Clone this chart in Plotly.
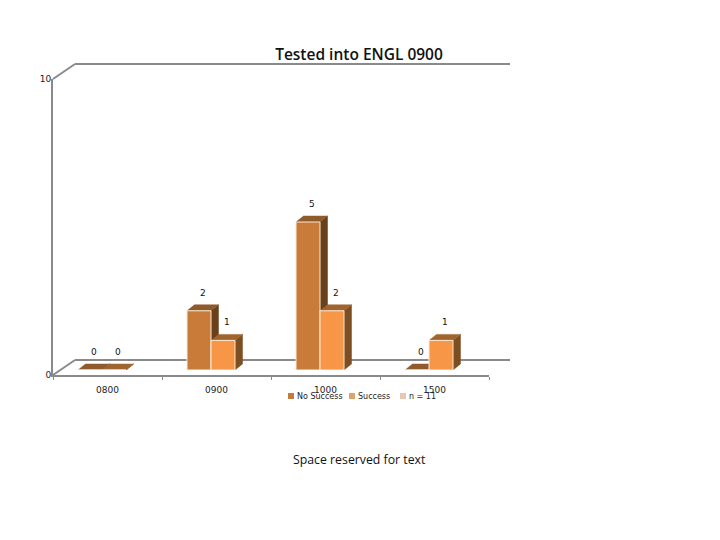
import plotly.graph_objects as go

categories = ["0800", "0900", "1000", "1500"]
no_success = [0, 2, 5, 0]
success = [0, 1, 2, 1]
legend_names = ["No Success", "Success", "n = 11"]
legend_colors = ["#C27C3E", "#E0A26C", "#E8C6B4"]
y_ticks = [0, 10]

W, H = 720, 540
FRONT = ["#C97B3A", "#F79646"]
TOP = ["#8F5A2C", "#A0652F"]
SIDE = ["#68401C", "#7C4E22"]
EDGE = "#FBEBD6"
GRID = "#8A8A8A"
FONT = "DejaVu Sans, sans-serif"


def px(x):
    return x / W


def py(y):
    return 1 - y / H


# pixel geometry of the pseudo-3D frame
L, R, T, B = 53, 489, 79, 375
SHIFT_X, SHIFT_Y = -5.5, -5
DX, DY = 7.5, 6
unit_x = (R - L) / len(categories)
unit_y = (B - T) / y_ticks[-1]
ddx, ddy = DX / unit_x, DY / unit_y
bar_w = 24 / unit_x
x_range = [-0.5, len(categories) - 0.5]
y_range = [y_ticks[0], y_ticks[-1]]

fig = go.Figure()

# depth faces: lower overlay, so the front faces cover them
for s, vals in enumerate([no_success, success]):
    for i, v in enumerate(vals):
        left = i - bar_w + s * bar_w
        right = left + bar_w
        fig.add_trace(go.Scatter(
            x=[right, right + ddx, right + ddx, right, right],
            y=[0, ddy, v + ddy, v, 0],
            mode="lines", fill="toself", fillcolor=SIDE[s],
            line=dict(color=SIDE[s], width=0.5),
            xaxis="x2", yaxis="y2", showlegend=False, hoverinfo="skip"))
        fig.add_trace(go.Scatter(
            x=[left, left + ddx, right + ddx, right, left],
            y=[v, v + ddy, v + ddy, v, v],
            mode="lines", fill="toself", fillcolor=TOP[s],
            line=dict(color=TOP[s], width=0.5),
            xaxis="x2", yaxis="y2", showlegend=False, hoverinfo="skip"))

# front faces
for s, (name, vals) in enumerate(zip(legend_names, [no_success, success])):
    fig.add_trace(go.Bar(
        x=categories, y=vals, name=name, width=bar_w,
        offset=-bar_w + s * bar_w,
        marker=dict(color=FRONT[s], line=dict(color=EDGE, width=1)),
        xaxis="x3", yaxis="y3", showlegend=False))

annotations = []
for s, vals in enumerate([no_success, success]):
    for i, v in enumerate(vals):
        annotations.append(dict(
            x=i - bar_w / 2 + s * bar_w, y=v, xref="x3", yref="y3",
            text=str(v), showarrow=False, xshift=4, yshift=18,
            font=dict(family=FONT, size=9, color="#111111")))

# legend
shapes = []
legend_x = [291, 352, 403]
for name, color, lx in zip(legend_names, legend_colors, legend_x):
    shapes.append(dict(type="rect", xref="paper", yref="paper",
                       x0=px(lx - 3), x1=px(lx + 3), y0=py(399), y1=py(393),
                       fillcolor=color, line=dict(width=0)))
    annotations.append(dict(x=px(lx + 4), y=py(396), xref="paper", yref="paper",
                            xanchor="left", yanchor="middle", text=name, showarrow=False,
                            font=dict(family=FONT, size=8, color="#222222")))

annotations.append(dict(x=px(359), y=py(459), xref="paper", yref="paper",
                        xanchor="center", yanchor="middle",
                        text="Space reserved for text", showarrow=False,
                        font=dict(family="Open Sans, sans-serif", size=12.3, color="#111111")))

# wall and floor lines
for pts in ([(L, T), (75, 64), (510, 64)], [(L, B), (75, 360), (510, 360)]):
    for (x0, y0), (x1, y1) in zip(pts, pts[1:]):
        shapes.append(dict(type="line", xref="paper", yref="paper", layer="below",
                           x0=px(x0), x1=px(x1), y0=py(y0), y1=py(y1),
                           line=dict(color=GRID, width=2)))

hidden = dict(visible=False, fixedrange=True, automargin=False)
fig.update_layout(
    width=W, height=H, margin=dict(l=0, r=0, t=0, b=0, pad=0),
    paper_bgcolor="white", plot_bgcolor="rgba(0,0,0,0)",
    showlegend=False, shapes=shapes, annotations=annotations,
    title=dict(text="Tested into ENGL 0900", x=px(359), y=py(55), xanchor="center", yanchor="middle",
               automargin=False,
               font=dict(family="Open Sans, sans-serif", size=15.5, weight=600, color="#111111")),
    xaxis=dict(domain=[px(L), px(R)], type="category", categoryorder="array", categoryarray=categories,
               range=x_range, tickmode="array", tickvals=categories, ticktext=categories,
               tickson="boundaries", ticks="outside", ticklen=3, tickwidth=1, tickcolor=GRID,
               showline=True, linecolor=GRID, linewidth=2, showgrid=False, zeroline=False,
               automargin=False, ticklabelstandoff=5,
               tickfont=dict(family=FONT, size=9, color="#222222"), anchor="y"),
    yaxis=dict(domain=[py(B), py(T)], range=y_range, tickvals=y_ticks, ticks="",
               showline=True, linecolor=GRID, linewidth=2, showgrid=False, zeroline=False,
               automargin=False, ticklabelstandoff=-2,
               tickfont=dict(family=FONT, size=9, color="#222222"), anchor="x"),
    xaxis2=dict(domain=[px(L + SHIFT_X), px(R + SHIFT_X)], range=x_range, anchor="y2", **hidden),
    yaxis2=dict(domain=[py(B + SHIFT_Y), py(T + SHIFT_Y)], range=y_range, anchor="x2", **hidden),
    xaxis3=dict(domain=[px(L + SHIFT_X), px(R + SHIFT_X)], type="category", categoryorder="array",
                categoryarray=categories, range=x_range, anchor="y3", **hidden),
    yaxis3=dict(domain=[py(B + SHIFT_Y), py(T + SHIFT_Y)], range=y_range, anchor="x3", **hidden),
)
# a dummy trace keeps the visible base axes alive
fig.add_trace(go.Scatter(x=categories, y=[None] * len(categories), xaxis="x", yaxis="y",
                         showlegend=False, hoverinfo="skip"))
fig.write_html("out.html", config={"displayModeBar": False},
               post_script="document.body.style.margin='0';")
